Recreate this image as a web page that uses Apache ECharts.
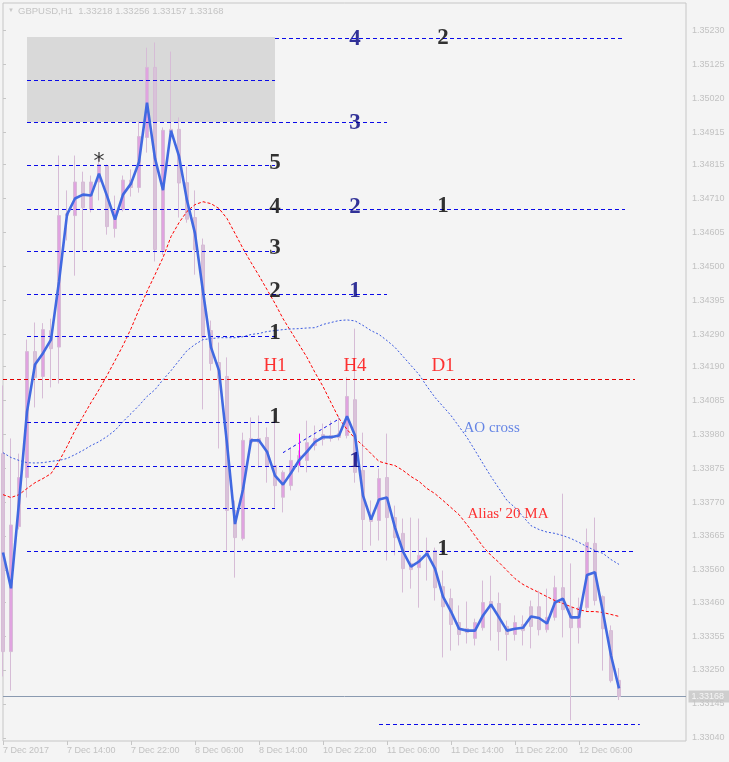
<!DOCTYPE html>
<html><head><meta charset="utf-8">
<script src="https://cdn.jsdelivr.net/npm/echarts@6/dist/echarts.min.js"></script>
<style>html,body{margin:0;padding:0;background:#f4f4f4;}#c{width:729px;height:762px;}</style>
</head><body><div id="c"></div>
<script>
// ---------- data ----------
const symbolName = 'GBPUSD,H1';
const timeTickBars = [0, 8, 16, 24, 32, 40, 48, 56, 64, 72];
const timeLabels = ['7 Dec 2017','7 Dec 14:00','7 Dec 22:00','8 Dec 06:00','8 Dec 14:00','10 Dec 22:00','11 Dec 06:00','11 Dec 14:00','11 Dec 22:00','12 Dec 06:00'];
const priceTicks = [1.33040,1.33145,1.33250,1.33355,1.33460,1.33560,1.33665,1.33770,1.33875,1.33980,1.34085,1.34190,1.34290,1.34395,1.34500,1.34605,1.34710,1.34815,1.34915,1.35020,1.35125,1.35230];

const opens = [1.33920,1.33307,1.33694,1.33846,1.34236,1.34159,1.34301,1.34250,1.34657,1.34657,
1.34761,1.34676,1.34761,1.34812,1.34617,1.34676,1.34767,1.34744,1.34899,1.35116,
1.34550,1.34924,1.34924,1.34759,1.34651,1.34566,1.34301,1.34202,1.34159,1.33744,
1.33657,1.33954,1.33954,1.33970,1.33883,1.33785,1.33821,1.33883,1.33899,1.33945,
1.33979,1.33967,1.33982,1.33976,1.34087,1.33868,1.33722,1.33713,1.33846,1.33722,
1.33673,1.33580,1.33567,1.33601,1.33620,1.33508,1.33471,1.33397,1.33378,1.33348,
1.33381,1.33462,1.33456,1.33385,1.33360,1.33391,1.33446,1.33446,1.33375,1.33413,
1.33505,1.33443,1.33381,1.33443,1.33642,1.33477,1.33372,1.33218];
const highs = [1.34131,1.33967,1.33920,1.34273,1.34326,1.34324,1.34338,1.34843,1.34735,1.34843,
1.34793,1.34781,1.34837,1.34815,1.34719,1.34781,1.34800,1.34950,1.35177,1.35193,
1.34930,1.35165,1.34961,1.34809,1.34735,1.34586,1.34332,1.34264,1.34218,1.33775,
1.33985,1.34032,1.34038,1.34001,1.34032,1.33868,1.33939,1.33930,1.34022,1.34007,
1.34013,1.34022,1.34038,1.34156,1.34307,1.33985,1.33775,1.33874,1.33982,1.33759,
1.33719,1.33722,1.33719,1.33660,1.33629,1.33558,1.33502,1.33450,1.33462,1.33409,
1.33527,1.33542,1.33490,1.33403,1.33419,1.33419,1.33465,1.33496,1.33502,1.33542,
1.33796,1.33580,1.33474,1.33688,1.33722,1.33481,1.33388,1.33256];
const lows = [1.33230,1.33186,1.33685,1.33784,1.34063,1.34091,1.34125,1.34137,1.34580,1.34471,
1.34546,1.34667,1.34704,1.34598,1.34589,1.34670,1.34716,1.34728,1.34852,1.34515,
1.34535,1.34908,1.34651,1.34635,1.34474,1.34057,1.34177,1.33936,1.33620,1.33536,
1.33651,1.33945,1.33877,1.33830,1.33753,1.33738,1.33806,1.33862,1.33862,1.33930,
1.33945,1.33957,1.33961,1.33967,1.33830,1.33620,1.33635,1.33651,1.33589,1.33605,
1.33490,1.33502,1.33443,1.33527,1.33465,1.33289,1.33310,1.33326,1.33332,1.33326,
1.33372,1.33341,1.33310,1.33279,1.33341,1.33326,1.33317,1.33357,1.33366,1.33403,
1.33351,1.33094,1.33332,1.33434,1.33450,1.33248,1.33211,1.33157];
const closes = [1.33307,1.33699,1.33846,1.34236,1.34156,1.34304,1.34245,1.34657,1.34663,1.34761,
1.34682,1.34761,1.34815,1.34623,1.34673,1.34767,1.34744,1.34902,1.35116,1.34552,
1.34921,1.34917,1.34758,1.34646,1.34552,1.34280,1.34199,1.34153,1.33744,1.33660,
1.33961,1.33967,1.33967,1.33883,1.33821,1.33862,1.33899,1.33914,1.33954,1.33967,
1.33964,1.33976,1.33970,1.34097,1.33862,1.33716,1.33710,1.33843,1.33722,1.33660,
1.33564,1.33561,1.33605,1.33620,1.33505,1.33446,1.33391,1.33360,1.33366,1.33397,
1.33459,1.33443,1.33369,1.33360,1.33397,1.33372,1.33385,1.33375,1.33413,1.33505,
1.33437,1.33381,1.33443,1.33645,1.33465,1.33378,1.33217,1.33168];

// thick blue line (body middle)
const bodyMidLine = [1.33614,1.33503,1.33769,1.34050,1.34196,1.34231,1.34273,1.34453,1.34660,1.34710,
1.34722,1.34719,1.34787,1.34718,1.34645,1.34722,1.34756,1.34823,1.35007,1.34834,
1.34736,1.34920,1.34841,1.34704,1.34602,1.34422,1.34249,1.34177,1.33951,1.33702,
1.33809,1.33961,1.33961,1.33926,1.33852,1.33824,1.33860,1.33899,1.33926,1.33956,
1.33971,1.33971,1.33976,1.34036,1.33976,1.33790,1.33716,1.33778,1.33784,1.33691,
1.33617,1.33570,1.33586,1.33611,1.33564,1.33477,1.33431,1.33378,1.33372,1.33372,
1.33419,1.33453,1.33413,1.33372,1.33378,1.33381,1.33416,1.33411,1.33394,1.33459,
1.33471,1.33413,1.33413,1.33544,1.33553,1.33428,1.33295,1.33193];
// red dotted "Alias' 20 MA"
const maLine = [1.33793,1.33784,1.33793,1.33812,1.33830,1.33843,1.33858,1.33896,1.33942,1.33992,
1.34035,1.34078,1.34118,1.34162,1.34208,1.34255,1.34307,1.34366,1.34422,1.34474,
1.34527,1.34592,1.34635,1.34670,1.34691,1.34700,1.34694,1.34679,1.34648,1.34602,
1.34555,1.34512,1.34471,1.34428,1.34385,1.34338,1.34298,1.34258,1.34218,1.34171,
1.34128,1.34078,1.34029,1.33995,1.33967,1.33945,1.33920,1.33896,1.33889,1.33883,
1.33868,1.33849,1.33834,1.33812,1.33796,1.33775,1.33753,1.33731,1.33700,1.33666,
1.33632,1.33605,1.33583,1.33558,1.33533,1.33515,1.33502,1.33490,1.33477,1.33465,
1.33456,1.33446,1.33437,1.33431,1.33431,1.33428,1.33422,1.33416];
// thin blue dotted "AO cross"
const aoLine = [1.33923,1.33908,1.33899,1.33892,1.33891,1.33892,1.33896,1.33899,1.33905,1.33917,
1.33930,1.33945,1.33957,1.33973,1.33992,1.34019,1.34044,1.34069,1.34097,1.34118,
1.34149,1.34177,1.34208,1.34239,1.34258,1.34273,1.34276,1.34279,1.34279,1.34279,
1.34282,1.34289,1.34292,1.34298,1.34301,1.34304,1.34306,1.34307,1.34309,1.34310,
1.34320,1.34326,1.34332,1.34334,1.34331,1.34317,1.34301,1.34289,1.34270,1.34249,
1.34221,1.34193,1.34165,1.34128,1.34094,1.34066,1.34038,1.34004,1.33970,1.33930,
1.33889,1.33849,1.33812,1.33775,1.33753,1.33725,1.33697,1.33685,1.33677,1.33673,
1.33666,1.33657,1.33645,1.33632,1.33620,1.33611,1.33592,1.33577];

// horizontal level lines (blue dashed)
const levelPrices = [1.352054,1.350753,1.349453,1.348121,1.346759,1.345459,1.344127,1.342827,1.340164,1.338802,1.337501,1.336170,1.330813];
const levelFrom   = [34,3,3,3,3,3,3,3,3,3,3,3,47];
const levelTo     = [77.75,34,48,34,77.75,34,48,34,34,47,34,79,79.6];
// timeframe line (red dashed)
const tfLinePrice = 1.341495;
const tfLineFrom = 0, tfLineTo = 79;
// zone rectangle
const zoneBars = [3, 34];
const zonePrices = [1.35210, 1.34947];
// short trend line
const trendBars = [35, 42.1];
const trendPrices = [1.33923, 1.34029];
// magenta vertical marker
const vmarkBar = 37;
const vmarkPrices = [1.33982, 1.33883];

// text annotations
const blackDigitText  = ['2','5','4','1','3','2','1','1','1'];
const blackDigitBar   = [55,34,34,55,34,34,34,34,55];
const blackDigitPrice = [1.35208,1.34821,1.34685,1.34688,1.34555,1.34422,1.34292,1.34032,1.33626];
const navyDigitText  = ['4','3','2','1','1'];
const navyDigitBar   = [44,44,44,44,44];
const navyDigitPrice = [1.35205,1.34945,1.34682,1.34422,1.33896];
const tfText  = ['H1','H4','D1'];
const tfBar   = [34,44,55];
const tfPrice = [1.34190,1.34190,1.34190];
const starText = ['*'];
const starBar = [12];
const starPrice = [1.34834];
const noteText  = ['AO cross', "Alias' 20 MA"];
const noteBar   = [57.5, 58];
const notePrice = [1.33998, 1.33734];

// ---------- chart ----------
const chart = echarts.init(document.getElementById('c'), null, {renderer:'canvas', width:729, height:762});
const candleData = opens.map((o,i) => [i, o, closes[i], lows[i], highs[i]]);
const asXY = arr => arr.map((v,i) => [i, v]);
const serif = 'Liberation Serif';
const sans = 'Liberation Sans';
const axisGray = '#c2c2c2';
const last = opens.length - 1;
const X_MAX = 85.375;

function textSeries(texts, bars, prices, label) {
  return {
    type:'scatter', symbolSize:1, silent:true, z:20, clip:false,
    itemStyle:{color:'rgba(0,0,0,0)'},
    data: texts.map((t,i)=>[bars[i], prices[i]]),
    label: Object.assign({show:true, position:'inside', formatter: p => texts[p.dataIndex]}, label)
  };
}
function hLines(prices, from, to, style, z) {
  return {
    type:'lines', coordinateSystem:'cartesian2d', silent:true, z: z || 6,
    lineStyle: Object.assign({width:1, opacity:1}, style),
    data: prices.map((p,i)=>({coords:[[from[i], p],[to[i], p]]}))
  };
}

const option = {
  animation:false,
  backgroundColor:'#f4f4f4',
  graphic:[
    {type:'text', left:8, top:7, style:{text:'\u25BC', fill:'#c8c8c8', font:'6px ' + sans}},
    {type:'text', left:18, top:6, style:{
      text: symbolName + '  ' + [opens[last], highs[last], lows[last], closes[last]].map(v=>v.toFixed(5)).join(' '),
      fill:'#c4c4c4', font:'9.5px ' + sans}}
  ],
  grid:{show:true, left:3, right:43, top:3, bottom:21, borderColor:'#c6c6c6', borderWidth:1, backgroundColor:'transparent'},
  xAxis:{
    type:'value', min:0, max:X_MAX,
    axisLine:{show:false}, splitLine:{show:false},
    axisTick:{show:true, length:4, lineStyle:{color:'#c6c6c6'}, customValues: timeTickBars},
    axisLabel:{show:true, customValues: timeTickBars, align:'left', margin:5, fontSize:9, fontFamily:sans, color:axisGray,
      formatter: v => timeLabels[timeTickBars.indexOf(Math.round(v))] || ''}
  },
  yAxis:{
    type:'value', position:'right', min:1.330302, max:1.353153, scale:true,
    axisLine:{show:false}, splitLine:{show:false},
    axisTick:{show:true, length:3, lineStyle:{color:'#c6c6c6'}, customValues: priceTicks},
    axisLabel:{show:true, customValues: priceTicks, margin:6, fontSize:9, fontFamily:sans, color:axisGray,
      formatter: v => v.toFixed(5)}
  },
  series:[
    { // zone rectangle
      type:'line', data:[], silent:true,
      markArea:{silent:true, itemStyle:{color:'#d9d9d9'}, data:[[{coord:[zoneBars[0], zonePrices[0]]},{coord:[zoneBars[1], zonePrices[1]]}]]}
    },
    // current price line
    hLines([closes[last]], [0], [X_MAX], {color:'#8a9ab0', type:'solid'}, 2),
    {
      type:'candlestick', data:candleData, barWidth:4, z:3,
      encode:{x:0, y:[1,2,3,4]},
      itemStyle:{color:'#e0a3e0', color0:'#d9c2d9', borderColor:'#d6bcd6', borderColor0:'#d6bcd6', borderWidth:1}
    },
    hLines(levelPrices, levelFrom, levelTo, {color:'#0a0ae8', type:[4,3]}),
    hLines([tfLinePrice], [tfLineFrom], [tfLineTo], {color:'#e00000', type:[4,3]}),
    {
      type:'lines', coordinateSystem:'cartesian2d', silent:true, z:6,
      lineStyle:{color:'#0a0ae8', width:1, type:[3,3], opacity:1},
      data:[{coords:[[trendBars[0], trendPrices[0]],[trendBars[1], trendPrices[1]]]}]
    },
    {
      type:'lines', coordinateSystem:'cartesian2d', silent:true, z:6,
      lineStyle:{color:'#ff00ff', width:1, type:'solid', opacity:1},
      data:[{coords:[[vmarkBar, vmarkPrices[0]],[vmarkBar, vmarkPrices[1]]]}]
    },
    {
      type:'line', data: asXY(maLine), symbol:'none', silent:true, z:5,
      lineStyle:{color:'#ff0000', width:1, type:[3,2]}
    },
    {
      type:'line', data: asXY(aoLine), symbol:'none', silent:true, z:5,
      lineStyle:{color:'#3a5ae0', width:1, type:[2,2]}
    },
    {
      type:'line', data: asXY(bodyMidLine), symbol:'none', silent:true, z:8,
      lineStyle:{color:'#4169e1', width:2.6}
    },
    textSeries(blackDigitText, blackDigitBar, blackDigitPrice, {color:'#000000', fontSize:23, fontWeight:'bold', fontFamily:serif}),
    textSeries(navyDigitText, navyDigitBar, navyDigitPrice, {color:'#000080', fontSize:23, fontWeight:'bold', fontFamily:serif}),
    textSeries(tfText, tfBar, tfPrice, {color:'#ff0000', fontSize:19, fontFamily:serif}),
    textSeries(starText, starBar, starPrice, {color:'#000000', fontSize:22, fontFamily:'DejaVu Sans', offset:[0,4]}),
    textSeries(noteText, noteBar, notePrice, {position:'right', distance:0, color:'#ff0000', fontSize:15, fontFamily:serif}),
    // current price label on the price scale
    textSeries([closes[last].toFixed(5)], [X_MAX], [closes[last]], {position:'right', distance:2, color:'#ffffff',
      backgroundColor:'#c4c4c4', padding:[2,5,1,3], fontSize:9, fontFamily:sans})
  ]
};
// note colours: first note blue, second red
const noteIdx = option.series.length - 2;
option.series[noteIdx].data = noteText.map((t,i)=>({value:[noteBar[i], notePrice[i]], label:{color: i===0 ? '#4169e1' : '#ff0000'}}));
chart.setOption(option);
</script></body></html>
